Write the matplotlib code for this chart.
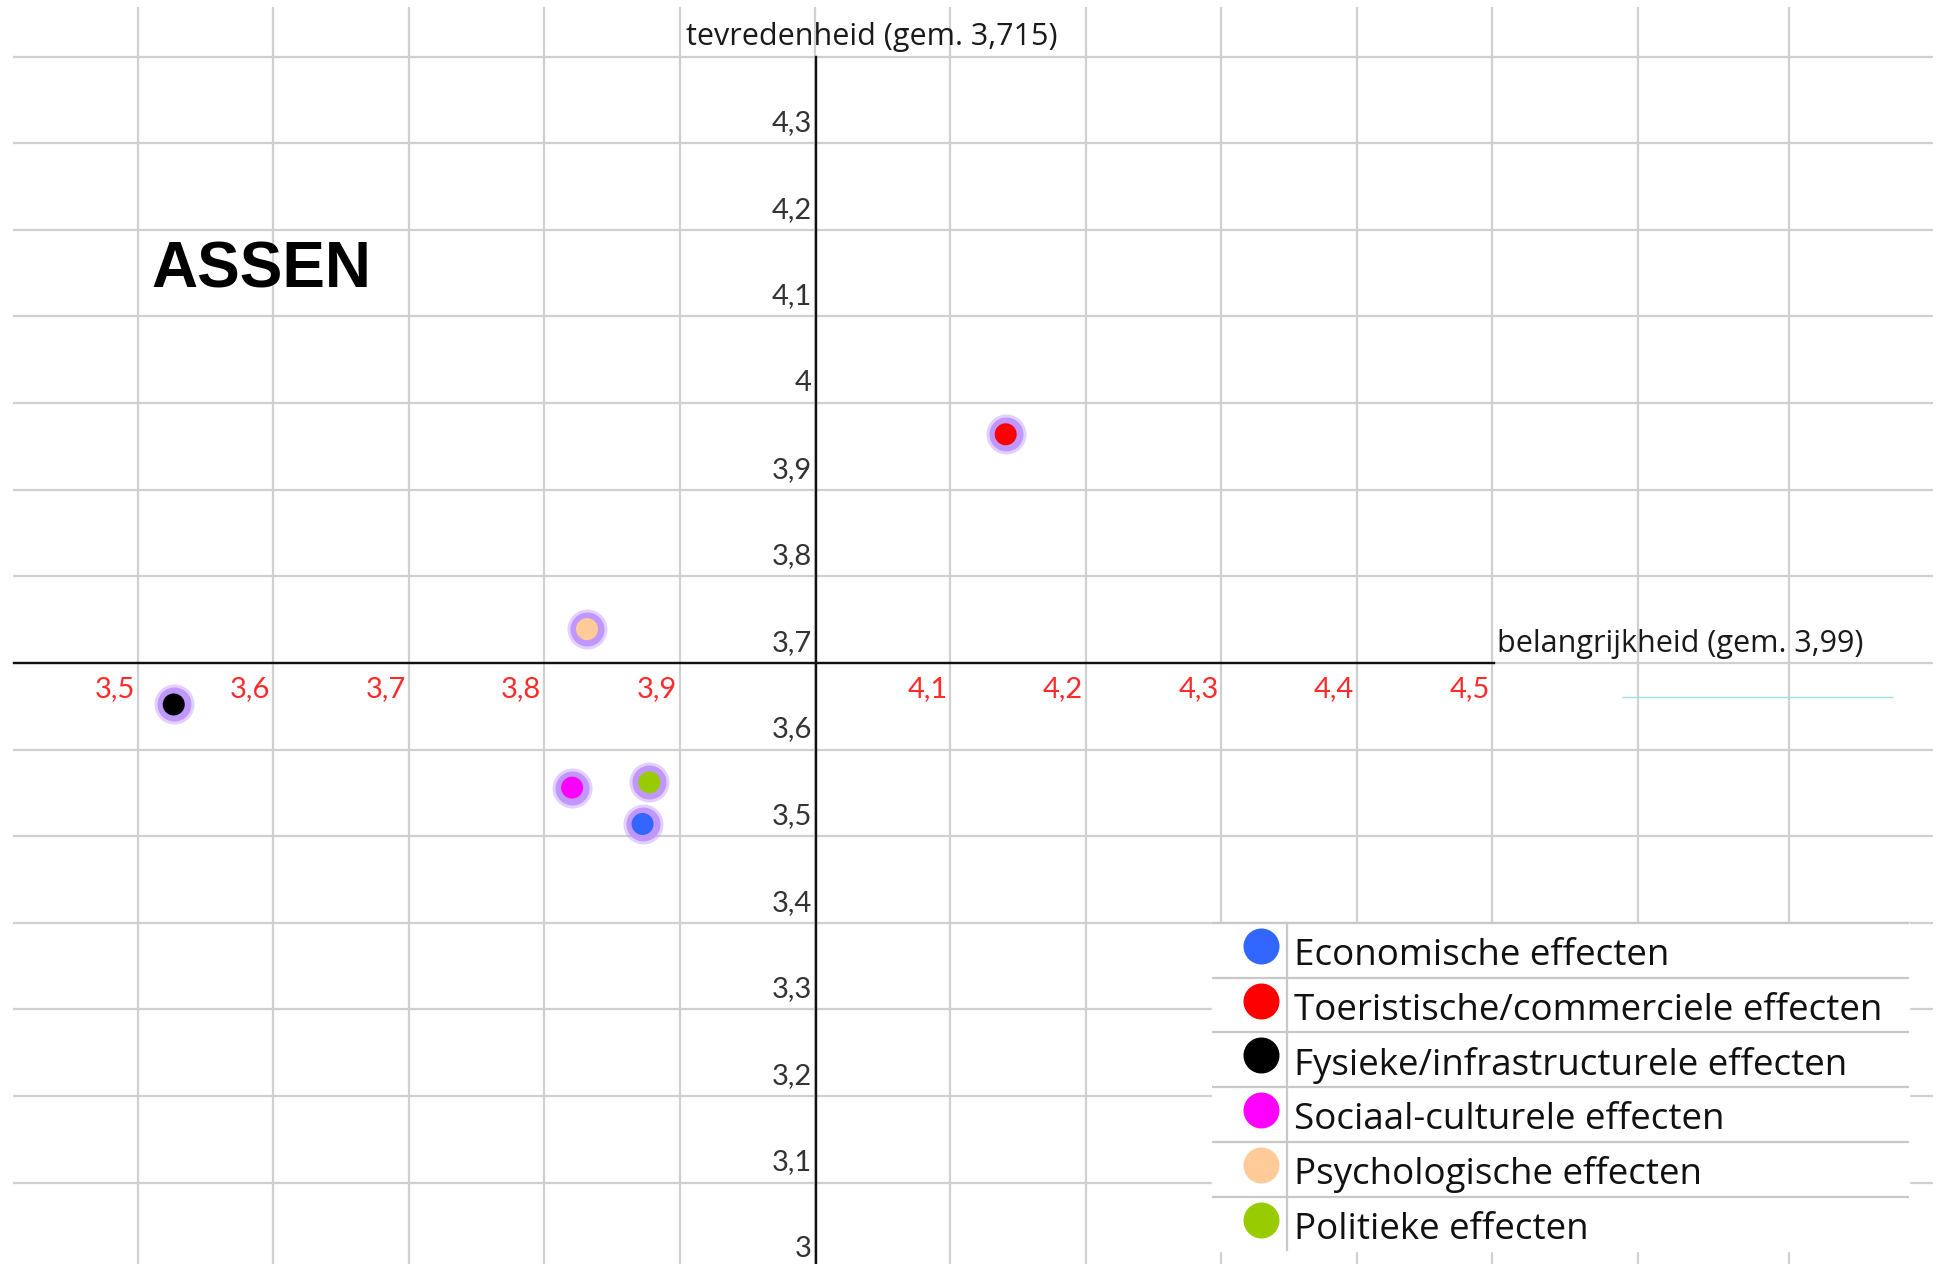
import matplotlib.pyplot as plt
from matplotlib.transforms import ScaledTranslation

# -------- Data -------- #
categories = ['Economische effecten', 'Toeristische/commerciele effecten',
              'Fysieke/infrastructurele effecten', 'Sociaal-culturele effecten',
              'Psychologische effecten', 'Politieke effecten']
colors = ['#3366FF', '#FF0000', '#000000', '#FF00FF', '#FFCC99', '#99CC00']
belangrijkheid = [3.872, 4.140, 3.526, 3.820, 3.831, 3.877]
tevredenheid = [3.514, 3.964, 3.652, 3.556, 3.739, 3.562]

x_ticks = [3.5, 3.6, 3.7, 3.8, 3.9, 4.1, 4.2, 4.3, 4.4, 4.5]
y_ticks = [3.0, 3.1, 3.2, 3.3, 3.4, 3.5, 3.6, 3.7, 3.8, 3.9, 4.0, 4.1, 4.2, 4.3]
x_cross, y_cross = 4.0, 3.7
x_title = 'belangrijkheid (gem. 3,99)'
y_title = 'tevredenheid (gem. 3,715)'
title = 'ASSEN'

plt.rcParams['font.family'] = 'Lato'


def fmt(v):
    s = f'{v:.1f}'.replace('.', ',')
    return s[:-2] if s.endswith(',0') else s


# -------- Figure / spreadsheet background -------- #
W, H = 1939, 1264
fig = plt.figure(figsize=(W / 100, H / 100), dpi=100)
fig.patch.set_facecolor('white')

sheet = fig.add_axes([0, 0, 1, 1])
sheet.set_xlim(0, W)
sheet.set_ylim(H, 0)
sheet.axis('off')

grid_col = '#D0D0D0'
col_edges = [138 + 135.4 * k for k in range(11)] + [1638, 1789]
row_edges = [56.7 + 86.6 * k for k in range(14)]
sheet.vlines(col_edges, 7, H, color=grid_col, lw=1.6, zorder=1)
sheet.hlines(row_edges, 13, 1933, color=grid_col, lw=1.6, zorder=1)
sheet.hlines(696.7, 1622, 1893, color='#A6DCE2', lw=1.0, zorder=1)

# cell texts
sheet.text(261, 271, title, fontsize=46, fontweight='bold',
           family='Liberation Sans', ha='center', va='center', zorder=3)
sheet.text(686, 37, y_title, fontsize=22, family='Open Sans', ha='left',
           va='center', color='#1a1a1a', zorder=3)
sheet.text(1497, 644, x_title, fontsize=22, family='Open Sans', ha='left',
           va='center', color='#1a1a1a', zorder=3)

# -------- Legend as table -------- #
leg_top, row_h = 922.7, 54.8
leg_left, leg_right, leg_bottom = 1212, 1909, 1251
sheet.add_patch(plt.Rectangle((leg_left, leg_top), leg_right - leg_left,
                              leg_bottom - leg_top, color='white', zorder=2))
for i, (name, c) in enumerate(zip(categories, colors)):
    yr = leg_top + i * row_h
    sheet.hlines(yr, leg_left, leg_right, color='#C8C8C8', lw=1.6, zorder=3)
    sheet.scatter(1261, yr + 23, s=(36 * 0.72) ** 2, color=c, lw=0, zorder=4)
    sheet.text(1294, yr + 33, name, fontsize=26.5, family='Open Sans',
               ha='left', va='center', color='#111111', zorder=4)
sheet.vlines(1287, leg_top, leg_bottom, color='#C8C8C8', lw=1.6, zorder=3)

# -------- Chart -------- #
sx, sy = 1355, 866          # pixels per unit
px_x4, py_y37 = 816, 662.9  # pixel position of x=4.0 and y=3.7
x0, x1, y0, y1 = 3.408, 4.5, 3.0, 4.4
left = px_x4 + (x0 - x_cross) * sx
top = py_y37 - (y1 - y_cross) * sy
bottom = py_y37 + (y_cross - y0) * sy
ax = fig.add_axes([left / W, 1 - bottom / H, (x1 - x0) * sx / W, (bottom - top) / H])
ax.patch.set_alpha(0)
ax.set_xlim(x0, x1)
ax.set_ylim(y0, y1)

ax.spines['left'].set_position(('data', x_cross))
ax.spines['bottom'].set_position(('data', y_cross))
ax.spines['top'].set_visible(False)
ax.spines['right'].set_visible(False)
for s in ('left', 'bottom'):
    ax.spines[s].set_color('#111111')
    ax.spines[s].set_linewidth(1.7)
ax.set_xticks([])
ax.set_yticks([])

# --- Tick labels --- #
off_x = ax.transData + ScaledTranslation(-0.24, -0.26, fig.dpi_scale_trans)
for v in x_ticks:
    ax.text(v, y_cross, fmt(v), transform=off_x, ha='center', va='center',
            fontsize=21, color='#FF2A2A', clip_on=False)
off_y = ax.transData + ScaledTranslation(-0.04, 0.20, fig.dpi_scale_trans)
for v in y_ticks:
    ax.text(x_cross, v, fmt(v), transform=off_y, ha='right', va='center',
            fontsize=21, color='#333333', clip_on=False)

# --- Points with glow --- #
ax.scatter(belangrijkheid, tevredenheid, s=(40 * 0.72) ** 2, color='#C8A2FF',
           alpha=0.5, lw=0, zorder=3)
ax.scatter(belangrijkheid, tevredenheid, s=(34 * 0.72) ** 2, color='#C096FF',
           lw=0, zorder=4)
ax.scatter(belangrijkheid, tevredenheid, s=(22 * 0.72) ** 2, c=colors,
           lw=0, zorder=5)

fig.savefig('out.png', dpi=100)
